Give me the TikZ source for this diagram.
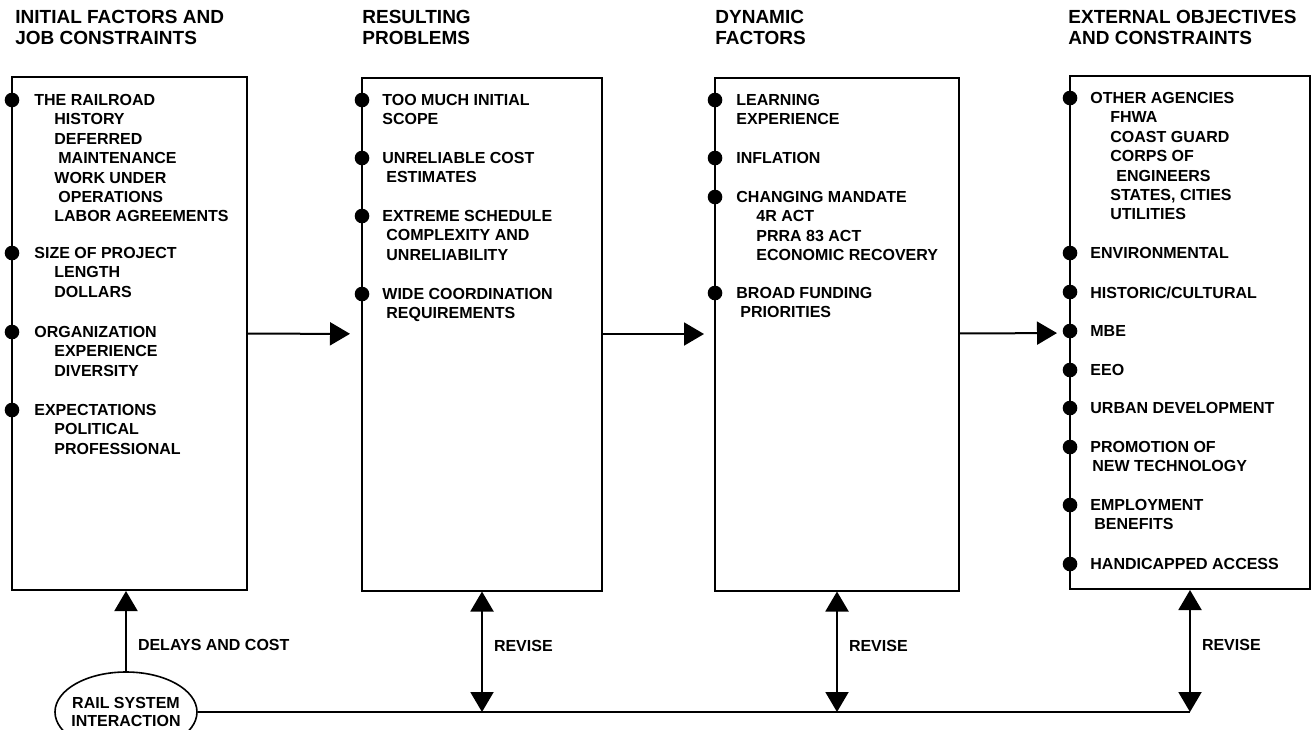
\documentclass[tikz,border=0pt]{standalone}
\usepackage{fontspec}
\setmainfont{Liberation Sans}
\usetikzlibrary{arrows.meta,shapes.geometric}
\newcommand{\subind}{\hspace*{10pt}}
\tikzstyle{stage}=[rectangle, draw, line width=1pt, minimum height=256.5pt, inner sep=0pt]
\tikzstyle{dot}=[circle, fill, inner sep=0pt, minimum size=7.3pt]
\tikzstyle{item}=[anchor=north west, align=left, inner sep=0pt, font=\bfseries\fontsize{8}{9.7}\selectfont]
\tikzstyle{head}=[anchor=north west, align=left, inner sep=0pt, font=\bfseries\fontsize{9.5}{10.5}\selectfont]
\tikzstyle{lab}=[anchor=west, inner sep=0pt, xshift=5.5pt, font=\bfseries\fontsize{8}{9.7}\selectfont]
\tikzstyle{flow}=[line width=1pt, -{Triangle[length=10pt, width=11.5pt]}]
\tikzstyle{twoway}=[line width=1pt, {Triangle[length=10pt, width=11.5pt]}-{Triangle[length=10pt, width=11.5pt]}]
\begin{document}
\begin{tikzpicture}[x=0.5pt, y=-0.5pt]
\clip (0,0) rectangle (1313,729);
% columns
\node[stage, minimum width=117.5pt] (b1) at (129.5,333.5) {};
\node[stage, minimum width=120pt] (b2) at (482,334) {};
\node[stage, minimum width=122pt] (b3) at (837,334) {};
\node[stage, minimum width=120pt] (b4) at (1190,332.5) {};
\node[head] (h1) at (15,10) {INITIAL FACTORS AND\\JOB CONSTRAINTS};
\node[head] (h2) at (362,10) {RESULTING\\PROBLEMS};
\node[head] (h3) at (715,10) {DYNAMIC\\FACTORS};
\node[head] (h4) at (1068,10) {EXTERNAL OBJECTIVES\\AND CONSTRAINTS};
% items
\foreach \y/\t [count=\i] in {100/{THE RAILROAD\\\subind HISTORY\\\subind DEFERRED\\\hspace*{12pt}MAINTENANCE\\\subind WORK UNDER\\\hspace*{12pt}OPERATIONS\\\subind LABOR AGREEMENTS},
    253/{SIZE OF PROJECT\\\subind LENGTH\\\subind DOLLARS},
    332/{ORGANIZATION\\\subind EXPERIENCE\\\subind DIVERSITY},
    410/{EXPECTATIONS\\\subind POLITICAL\\\subind PROFESSIONAL}} {
  \node[dot] (d1\i) at (12,\y) {};
  \node[item] (t1\i) at (34,\y-6) {\t};
}
\foreach \y/\t [count=\i] in {100/{TOO MUCH INITIAL\\SCOPE},
    158/{UNRELIABLE COST\\\hspace*{2pt}ESTIMATES},
    216/{EXTREME SCHEDULE\\\hspace*{2pt}COMPLEXITY AND\\\hspace*{2pt}UNRELIABILITY},
    294/{WIDE COORDINATION\\\hspace*{2pt}REQUIREMENTS}} {
  \node[dot] (d2\i) at (362,\y) {};
  \node[item] (t2\i) at (382,\y-6) {\t};
}
\foreach \y/\t [count=\i] in {100/{LEARNING\\EXPERIENCE},
    158/{INFLATION},
    197/{CHANGING MANDATE\\\subind 4R ACT\\\subind PRRA 83 ACT\\\subind ECONOMIC RECOVERY},
    293/{BROAD FUNDING\\\hspace*{2pt}PRIORITIES}} {
  \node[dot] (d3\i) at (715,\y) {};
  \node[item] (t3\i) at (736,\y-6) {\t};
}
\foreach \y/\t [count=\i] in {98/{OTHER AGENCIES\\\subind FHWA\\\subind COAST GUARD\\\subind CORPS OF\\\hspace*{13pt}ENGINEERS\\\subind STATES, CITIES\\\subind UTILITIES},
    253/{ENVIRONMENTAL}, 292/{HISTORIC/CULTURAL}, 331/{MBE}, 370/{EEO},
    408/{URBAN DEVELOPMENT},
    447/{PROMOTION OF\\\hspace*{1pt}NEW TECHNOLOGY},
    505/{EMPLOYMENT\\\hspace*{2pt}BENEFITS},
    564/{HANDICAPPED ACCESS}} {
  \node[dot] (d4\i) at (1070,\y) {};
  \node[item] (t4\i) at (1090,\y-6) {\t};
}
\draw[flow, shorten >=5.5pt] (b1) -- (b2);
\draw[flow, shorten >=5pt] (b2) -- (b3);
\draw[flow, shorten >=6pt] (b3) -- (b4);
% feedback
\node[draw, ellipse, line width=.8pt, minimum width=71pt, minimum height=40pt, inner xsep=-2.5pt, inner ysep=0pt, align=center, font=\bfseries\fontsize{8}{9}\selectfont] (rail) at (126,712) {RAIL SYSTEM\\INTERACTION};
\coordinate (c2) at (b2.south |- rail.east);
\coordinate (c3) at (b3.south |- rail.east);
\coordinate (c4) at (b4.south |- rail.east);
\draw[line width=1pt] (rail.east) -- (c4);
\draw[flow] (rail.north) -- node[lab, pos=.33] {DELAYS AND COST} (rail.north |- b1.south);
\draw[twoway] (b2.south) -- node[lab, pos=.45] {REVISE} (c2);
\draw[twoway] (b3.south) -- node[lab, pos=.45] {REVISE} (c3);
\draw[twoway] (b4.south) -- node[lab, pos=.45] {REVISE} (c4);
\end{tikzpicture}
\end{document}
